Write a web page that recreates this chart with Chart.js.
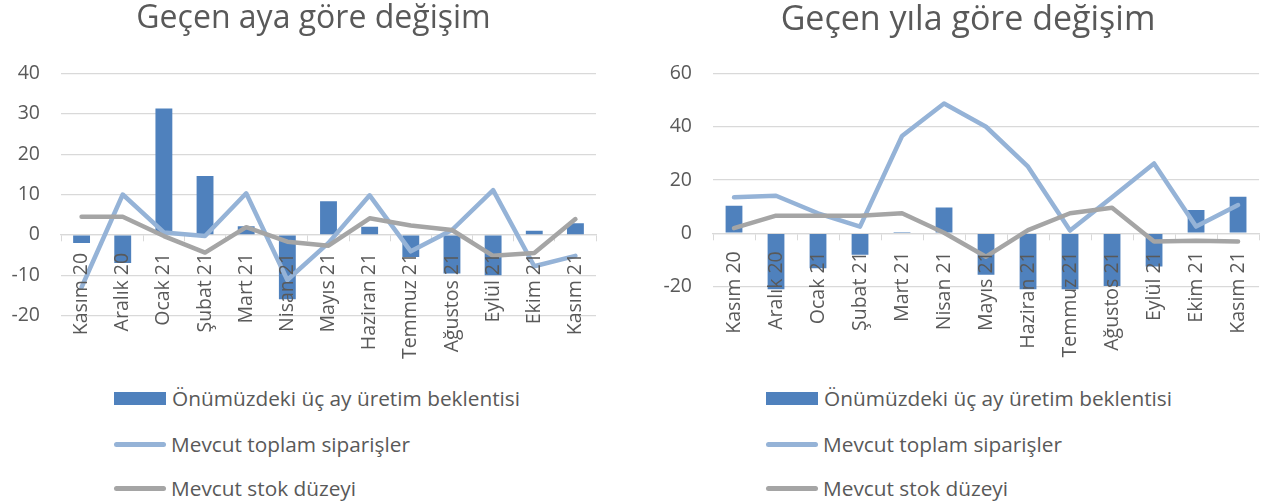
<!DOCTYPE html>
<html>
<head>
<meta charset="utf-8">
<script src="https://cdn.jsdelivr.net/npm/chart.js@4/dist/chart.umd.min.js"></script>
<style>
  html, body { margin: 0; padding: 0; background: #fff; }
  body { width: 1268px; height: 504px; position: relative; overflow: hidden; font-family: "Open Sans", sans-serif; }
  .wrap { position: absolute; top: 0; }
  .legend { position: absolute; color: #595959; font-size: 20.8px; font-family: "Open Sans", sans-serif; }
  .item { position: absolute; white-space: nowrap; display: flex; align-items: center; height: 24px; }
  .sw-bar { display: inline-block; width: 52px; height: 13px; background: #4F81BD; margin-right: 6px; }
  .sw-line { display: inline-block; width: 52px; height: 5px; border-radius: 3px; margin-right: 5px; }
</style>
</head>
<body>
<div class="wrap" style="left:0;width:627px;height:370px;"><canvas id="c1" width="627" height="370"></canvas></div>
<div class="wrap" style="left:662px;width:612px;height:370px;"><canvas id="c2" width="612" height="370"></canvas></div>

<div class="legend" style="left:114px;top:0;">
  <div class="item" style="top:386px;"><span class="sw-bar"></span>Önümüzdeki üç ay üretim beklentisi</div>
  <div class="item" style="top:432px;"><span class="sw-line" style="background:#95B3D7"></span>Mevcut toplam siparişler</div>
  <div class="item" style="top:476px;"><span class="sw-line" style="background:#A5A5A5"></span>Mevcut stok düzeyi</div>
</div>
<div class="legend" style="left:766px;top:0;">
  <div class="item" style="top:386px;"><span class="sw-bar"></span>Önümüzdeki üç ay üretim beklentisi</div>
  <div class="item" style="top:432px;"><span class="sw-line" style="background:#95B3D7"></span>Mevcut toplam siparişler</div>
  <div class="item" style="top:476px;"><span class="sw-line" style="background:#A5A5A5"></span>Mevcut stok düzeyi</div>
</div>

<script>
const categories = ["Kasım 20","Aralık 20","Ocak 21","Şubat 21","Mart 21","Nisan 21","Mayıs 21","Haziran 21","Temmuz 21","Ağustos 21","Eylül 21","Ekim 21","Kasım 21"];

const seriesNames = ["Önümüzdeki üç ay üretim beklentisi","Mevcut toplam siparişler","Mevcut stok düzeyi"];

// Geçen aya göre değişim
const monthProduction = [-2, -7, 31.3, 14.6, 2.1, -16, 8.3, 2, -5.5, -9.6, -10, 1, 2.9];
const monthOrders     = [-13, 10, 0.6, -0.3, 10.3, -11.2, -2, 9.8, -4.1, 1.2, 11.1, -7.8, -5.2];
const monthStock      = [4.5, 4.5, -0.3, -4.4, 1.9, -1.7, -2.7, 4.1, 2.3, 1.2, -5.2, -4.5, 3.9];

// Geçen yıla göre değişim
const yearProduction = [10.3, -21, -13.1, -8.1, 0.5, 9.7, -15.6, -21, -21, -19.8, -12.5, 8.7, 13.7];
const yearOrders     = [13.5, 14.1, 7.5, 2.5, 36.5, 48.7, 40, 25, 1, 13.5, 26.2, 2.5, 10.6];
const yearStock      = [1.9, 6.6, 6.6, 6.6, 7.5, 0.2, -8.8, 1.2, 7.5, 9.6, -3.1, -2.8, -3.1];

const leftTicks  = { min: -20, max: 40, step: 10 };
const rightTicks = { min: -20, max: 60, step: 20 };

const TEXT = '#595959';
const GRID = '#D9D9D9';
const FONT = 'Open Sans';

function makeChart(id, title, titleSize, prod, orders, stock, ticks, yWidth, rightGap, bottomPad, barPct) {
  return new Chart(document.getElementById(id), {
    data: {
      labels: categories,
      datasets: [
        { type: 'line', label: seriesNames[2], data: stock, borderColor: '#A5A5A5', backgroundColor: '#A5A5A5',
          borderWidth: 4.5, pointRadius: 0, tension: 0, borderJoinStyle: 'round', borderCapStyle: 'round', order: 0 },
        { type: 'line', label: seriesNames[1], data: orders, borderColor: '#95B3D7', backgroundColor: '#95B3D7',
          borderWidth: 4.5, pointRadius: 0, tension: 0, borderJoinStyle: 'round', borderCapStyle: 'round', order: 1 },
        { type: 'bar', label: seriesNames[0], data: prod, backgroundColor: '#4F81BD',
          barPercentage: barPct, categoryPercentage: 1, order: 2, clip: 4 }
      ]
    },
    options: {
      responsive: false,
      animation: false,
      layout: { padding: { left: 0, right: 0, top: 0, bottom: bottomPad } },
      plugins: {
        legend: { display: false },
        tooltip: { enabled: false },
        title: { display: true, text: title, color: TEXT, font: { family: FONT, size: titleSize, weight: 'normal' },
                 padding: { top: 0, bottom: 73.5 - titleSize * 1.2 } }
      },
      scales: {
        x: {
          position: { y: 0 },
          offset: true,
          grid: { display: true, drawOnChartArea: false, drawTicks: true, tickLength: 6, color: GRID, lineWidth: 1, offset: true },
          border: { display: true, color: GRID, width: 1.3 },
          ticks: { z: 1, color: TEXT, font: { family: FONT, size: 19.5 }, minRotation: 90, maxRotation: 90, padding: 12, autoSkip: false }
        },
        y: {
          position: 'left',
          min: ticks.min, max: ticks.max,
          grid: { color: GRID, lineWidth: 1.3, drawTicks: false },
          border: { display: false },
          ticks: { stepSize: ticks.step, color: TEXT, font: { family: FONT, size: 19.5 }, padding: 21 },
          afterFit: (s) => { s.width = yWidth; }
        },
        gap: {
          position: 'right',
          display: true,
          grid: { display: false, drawTicks: false },
          border: { display: false },
          ticks: { display: false },
          afterFit: (s) => { s.width = rightGap; }
        }
      }
    }
  });
}

makeChart('c1', 'Geçen aya göre değişim', 32, monthProduction, monthOrders, monthStock, leftTicks, 61, 31, 54.5, 0.41);
makeChart('c2', 'Geçen yıla göre değişim', 34, yearProduction, yearOrders, yearStock, rightTicks, 51, 14, 83.5, 0.40);
</script>
</body>
</html>
